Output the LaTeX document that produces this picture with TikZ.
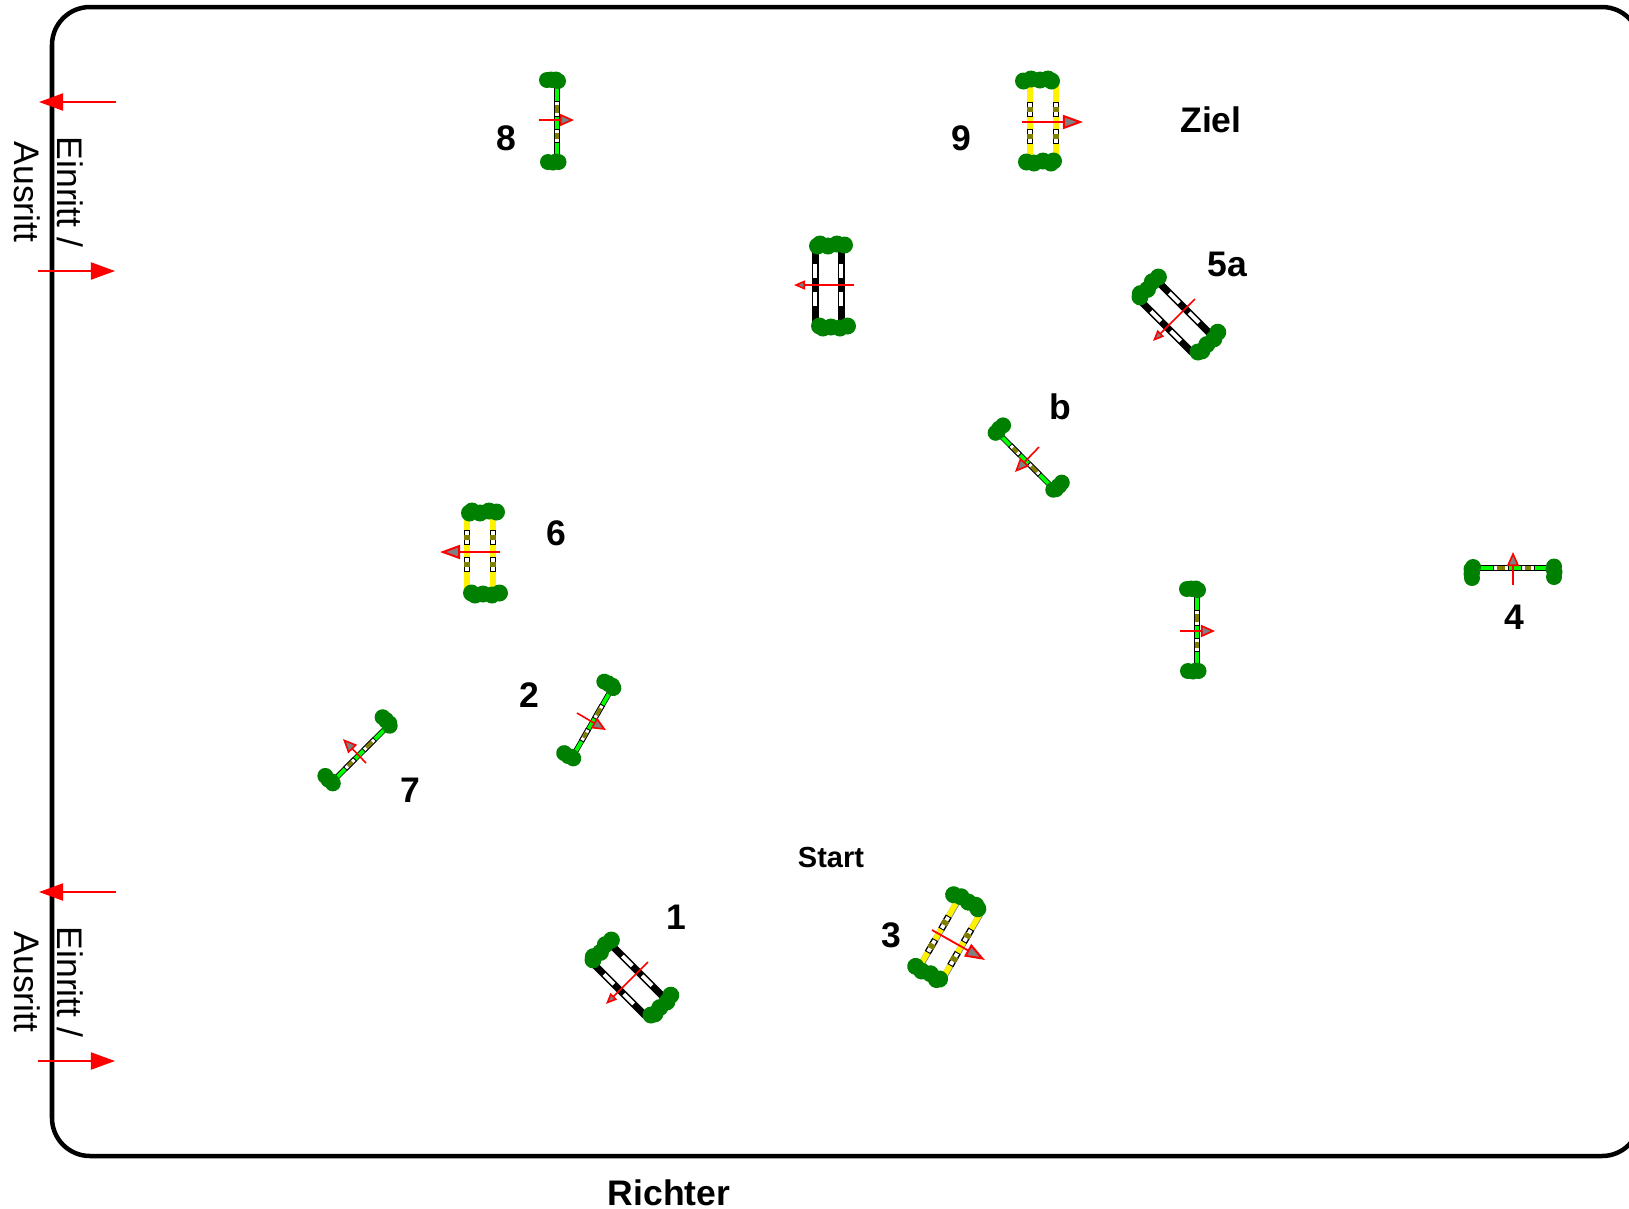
\documentclass[tikz,border=0pt]{standalone}
\usepackage{fontspec}
\setmainfont{Liberation Sans}
\usetikzlibrary{arrows.meta}
\definecolor{hedgegreen}{HTML}{008000}
\definecolor{polegreen}{HTML}{00FF00}
\definecolor{poleolive}{HTML}{808000}
\tikzset{
  turned/.style={rotate=#1, transform shape},
  number/.style={inner sep=0pt, font=\fontsize{10.1}{12}\selectfont\bfseries},
  gate/.style={-{Triangle[length=2.4mm,width=1.7mm]}, red, line width=0.02cm},
  flowbig/.style={-{Triangle[length=2mm,width=1.4mm,fill=gray,line width=0.02cm]}, red, line width=0.018cm},
  flowmid/.style={-{Triangle[length=1.4mm,width=1.2mm,fill=gray,line width=0.016cm]}, red, line width=0.016cm},
  flowsmall/.style={-{Triangle[length=1.1mm,width=0.9mm,fill=gray,line width=0.016cm]}, red, line width=0.016cm},
  pics/polebar/.style={code={
    \fill[black] (-2.7,-37) rectangle (2.7,37);
    \fill[polegreen] (-1.9,-37) rectangle (2,37);
    \fill[black] (-2.7,-21) rectangle (2.7,-5);
    \fill[black] (-2.7,7) rectangle (2.7,21);
    \fill[white] (-1.7,-20) rectangle (1.7,-6);
    \fill[white] (-1.7,8) rectangle (1.7,20);
    \fill[poleolive] (-1.7,-17) rectangle (1.7,-9);
    \fill[poleolive] (-1.7,11) rectangle (1.7,17);
  }},
  pics/yellowbar/.style={code={
    \fill[gray] (-3,-37) rectangle (3.4,37);
    \fill[yellow] (-3,-37) rectangle (2.6,37);
    \fill[black] (-3.4,-20) rectangle (3.4,-5);
    \fill[black] (-3.4,7) rectangle (3.4,22);
    \fill[white] (-2,-19) rectangle (2,-6);
    \fill[white] (-2,8) rectangle (2,21);
    \fill[poleolive] (-3.4,-15) rectangle (3.4,-10);
    \fill[poleolive] (-3.4,12) rectangle (3.4,17);
  }},
  pics/stripebar/.style={code={
    \fill[black] (-3.5,-37) rectangle (3.5,37);
    \fill[white] (-2,-21) rectangle (2,-7);
    \fill[white] (-2,7) rectangle (2,21);
  }},
  pics/hedgesmall/.style={code={
    \fill[hedgegreen] (-10,-42) circle (8) (-6,-43) circle (7.5) (-1,-43) circle (7.5) (1,-41) circle (8) (-5,-40) circle (6);
    \fill[hedgegreen] (-9,40) circle (8) (-4,41) circle (7.5) (-1,39) circle (7.5) (1.5,40) circle (8) (-4,39) circle (6);
  }},
  pics/hedgewide/.style={code={
    \fill[hedgegreen] (-19.5,-41) circle (8.5) (-12,-43) circle (8.5) (-3,-42) circle (8.5) (5,-43) circle (8.5) (8.5,-41) circle (8.5);
    \fill[hedgegreen] (-16.5,40) circle (8.5) (-9,41) circle (8.5) (0,39) circle (8.5) (8,41) circle (8.5) (10.5,39) circle (8.5);
  }},
  pics/singlefence/.style={code={
    \pic {polebar};
    \pic {hedgesmall};
  }},
  pics/yellowfence/.style={code={
    \pic at (-13,0) {yellowbar};
    \pic at (13,0) {yellowbar};
    \pic {hedgewide};
  }},
  pics/stripefence/.style={code={
    \pic at (-13,0) {stripebar};
    \pic at (13,0) {stripebar};
    \pic {hedgewide};
  }},
}
\begin{document}
\begin{tikzpicture}[x=0.01cm,y=-0.01cm]
\useasboundingbox (0,0) rectangle (1629,1208);
% Arena
\draw[line width=0.045cm, rounded corners=0.38cm] (52,7) rectangle (1640,1156);
% Fences
\pic[turned=225] at (628,980) {stripefence};
\pic[turned=-30] at (592,723) {singlefence};
\pic[turned=-30] at (950,940) {yellowfence};
\pic[turned=90] at (1514,568) {singlefence};
\pic[turned=225] at (1175,317) {stripefence};
\pic[turned=225] at (1025,460) {singlefence};
\pic[turned=180] at (828,285) {stripefence};
\pic at (1197,631) {singlefence};
\pic[turned=180] at (480,552) {yellowfence};
\pic[turned=-45] at (360,754) {singlefence};
\pic at (557,122) {singlefence};
\pic at (1043,122) {yellowfence};
% Gate arrows
\coordinate (gatea) at (116,102);
\coordinate (gateaend) at (39,102);
\coordinate (gateb) at (38,271);
\coordinate (gatebend) at (115,271);
\coordinate (gatec) at (116,892);
\coordinate (gatecend) at (39,892);
\coordinate (gated) at (38,1061);
\coordinate (gatedend) at (115,1061);
\draw[gate] (gatea) -- (gateaend);
\draw[gate] (gateb) -- (gatebend);
\draw[gate] (gatec) -- (gatecend);
\draw[gate] (gated) -- (gatedend);
% Jump directions
\coordinate (flow1) at (648,962);
\coordinate (flow1end) at (606,1004);
\coordinate (flow2) at (577,713);
\coordinate (flow2end) at (606,730);
\coordinate (flow3) at (932,930);
\coordinate (flow3end) at (985,960);
\coordinate (flow4) at (1513,585);
\coordinate (flow4end) at (1513,552);
\coordinate (flow5) at (1195,299);
\coordinate (flow5end) at (1153,341);
\coordinate (flowb) at (1039,447);
\coordinate (flowbend) at (1015,472);
\coordinate (flowx) at (854,285);
\coordinate (flowxend) at (794,285);
\coordinate (flowy) at (1180,631);
\coordinate (flowyend) at (1215,631);
\coordinate (flow6) at (500,552);
\coordinate (flow6end) at (440,552);
\coordinate (flow7) at (366,763);
\coordinate (flow7end) at (343,739);
\coordinate (flow8) at (539,120);
\coordinate (flow8end) at (574,120);
\coordinate (flow9) at (1022,122);
\coordinate (flow9end) at (1083,122);
\draw[flowsmall] (flow1) -- (flow1end);
\draw[flowmid] (flow2) -- (flow2end);
\draw[flowbig] (flow3) -- (flow3end);
\draw[flowmid] (flow4) -- (flow4end);
\draw[flowsmall] (flow5) -- (flow5end);
\draw[flowmid] (flowb) -- (flowbend);
\draw[flowsmall] (flowx) -- (flowxend);
\draw[flowmid] (flowy) -- (flowyend);
\draw[flowbig] (flow6) -- (flow6end);
\draw[flowmid] (flow7) -- (flow7end);
\draw[flowmid] (flow8) -- (flow8end);
\draw[flowbig] (flow9) -- (flow9end);
% Labels
\node[number] (num1) at (676,917) {1};
\node[number] (num2) at (529,695) {2};
\node[number] (num3) at (891,935) {3};
\node[number] (num4) at (1514,617) {4};
\node[number] (num5a) at (1227,264) {5a};
\node[number] (numb) at (1060,407) {b};
\node[number] (num6) at (556,533) {6};
\node[number] (num7) at (410,790) {7};
\node[number] (num8) at (506,138) {8};
\node[number] (num9) at (961,138) {9};
\node[number] (ziel) at (1211,120) {Ziel};
\node[number, font=\fontsize{8.25}{10}\selectfont\bfseries] (start) at (831,857) {Start};
\node[number] (richter) at (669,1193) {Richter};
\node[rotate=-90, align=center, inner sep=0pt, font=\fontsize{10.1}{12.2}\selectfont] (gatetop) at (49,192) {Einritt /\\Ausritt};
\node[rotate=-90, align=center, inner sep=0pt, font=\fontsize{10.1}{12.2}\selectfont] (gatelow) at (49,982) {Einritt /\\Ausritt};
\end{tikzpicture}
\end{document}
